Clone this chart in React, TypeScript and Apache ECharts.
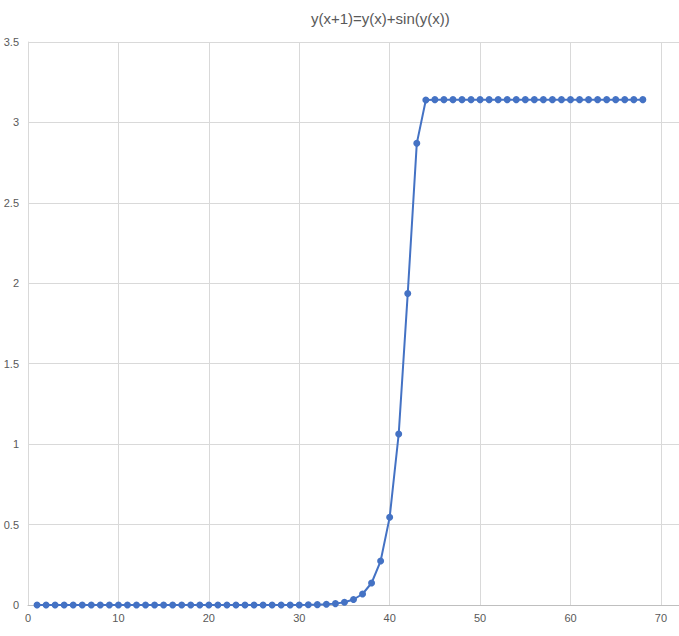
import React, { useEffect, useRef } from "react";
import * as echarts from "echarts";

const titleText = "y(x+1)=y(x)+sin(y(x))";
const xValues = [
  1, 2, 3, 4, 5, 6, 7, 8, 9, 10, 11, 12, 13, 14, 15, 16, 17, 18, 19, 20,
  21, 22, 23, 24, 25, 26, 27, 28, 29, 30, 31, 32, 33, 34, 35, 36, 37, 38, 39, 40,
  41, 42, 43, 44, 45, 46, 47, 48, 49, 50, 51, 52, 53, 54, 55, 56, 57, 58, 59, 60,
  61, 62, 63, 64, 65, 66, 67, 68,
];
const yValues = [
  0, 0, 0, 0, 0, 0, 0, 0, 0, 0,
  0, 0, 0, 0, 0, 0, 0, 0, 0, 0,
  0.000001, 0.000002, 0.0000042, 0.0000084, 0.0000167, 0.0000334, 0.0000668, 0.000134, 0.000267, 0.000535,
  0.00107, 0.00214, 0.00428, 0.00855, 0.0171, 0.0342, 0.0684, 0.1368, 0.2735, 0.545,
  1.063, 1.937, 2.87, 3.139, 3.1416, 3.1416, 3.1416, 3.1416, 3.1416, 3.1416,
  3.1416, 3.1416, 3.1416, 3.1416, 3.1416, 3.1416, 3.1416, 3.1416, 3.1416, 3.1416,
  3.1416, 3.1416, 3.1416, 3.1416, 3.1416, 3.1416, 3.1416, 3.1416,
];
const yTicks = [0, 0.5, 1, 1.5, 2, 2.5, 3, 3.5];

export default function App() {
  const ref = useRef<HTMLDivElement>(null);
  useEffect(() => {
    const chart = echarts.init(ref.current!, null, { renderer: "svg" });
    const data = xValues.map((x, i) => [x, yValues[i]]);
    chart.setOption({
      animation: false,
      backgroundColor: "#ffffff",
      title: {
        text: titleText,
        left: 306,
        top: 6,
        textStyle: {
          fontFamily: "Liberation Sans",
          fontSize: 15,
          fontWeight: "normal",
          color: "#595959",
        },
      },
      grid: { left: 28, right: 0, top: 42, bottom: 31, containLabel: false },
      xAxis: {
        type: "value",
        min: 0,
        max: 72,
        interval: 10,
        axisLine: { show: true, lineStyle: { color: "#bfbfbf", width: 1 } },
        axisTick: { show: false },
        axisLabel: {
          margin: 7,
          color: "#595959",
          fontFamily: "Liberation Sans",
          fontSize: 11,
          showMaxLabel: false,
          formatter: (v: number) => (v <= 70 ? String(v) : ""),
        },
        splitLine: { show: true, lineStyle: { color: "#d9d9d9", width: 1 } },
      },
      yAxis: {
        type: "value",
        min: yTicks[0],
        max: yTicks[yTicks.length - 1],
        interval: 0.5,
        axisLine: { show: true, lineStyle: { color: "#d9d9d9", width: 1 } },
        axisTick: { show: false },
        axisLabel: {
          margin: 9,
          color: "#595959",
          fontFamily: "Liberation Sans",
          fontSize: 11,
        },
        splitLine: { show: true, lineStyle: { color: "#d9d9d9", width: 1 } },
      },
      series: [
        {
          type: "line",
          data,
          symbol: "circle",
          symbolSize: 7,
          itemStyle: { color: "#4472C4" },
          lineStyle: { color: "#4472C4", width: 2 },
        },
      ],
    });
    return () => chart.dispose();
  }, []);
  return (
    <div
      style={{ position: "fixed", left: 0, top: 0, width: 679, height: 636, overflow: "hidden", background: "#fff" }}
    >
      <div ref={ref} style={{ width: 679, height: 636 }} />
    </div>
  );
}
